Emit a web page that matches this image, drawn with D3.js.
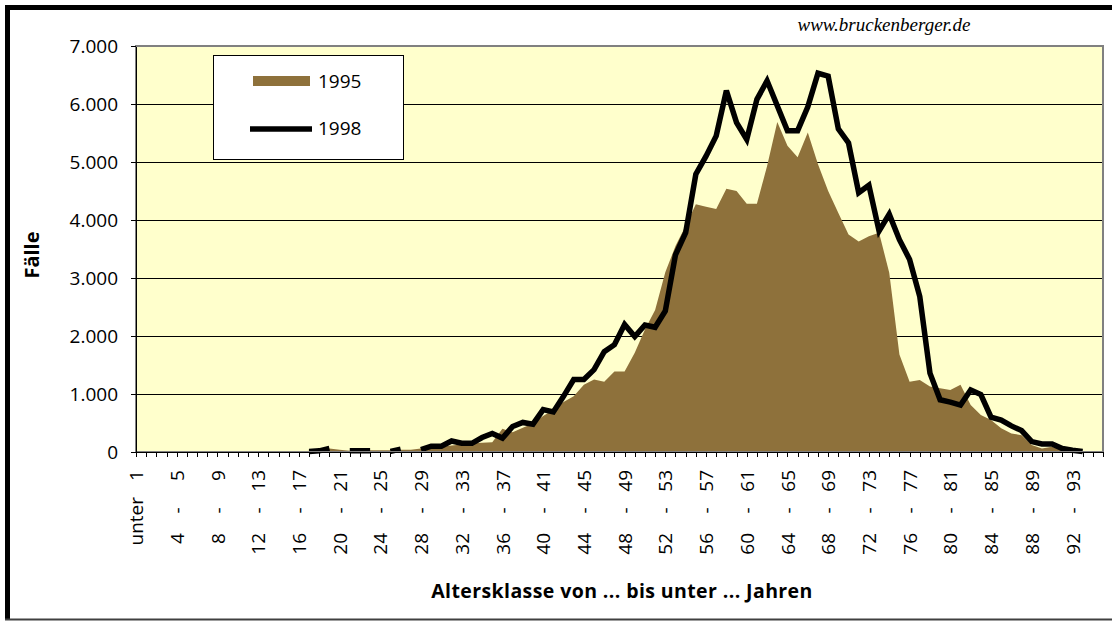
<!DOCTYPE html>
<html>
<head>
<meta charset="utf-8">
<script src="https://cdn.jsdelivr.net/npm/d3@7"></script>
<style>
  body { margin: 0; background: #fff; }
  svg { display: block; font-family: "Open Sans", sans-serif; }
</style>
</head>
<body>
<script>
// age classes: "unter 1", "1 - 2", ... "95 - 96"
var categories = ["unter 1"];
for (var a = 1; a < 96; a++) {
  categories.push(a + " - " + (a + 1));
}

// cases 1995 (area)
var values1995 = [
  0, 0, 0, 0, 0, 0, 0, 0, 0, 0,
  0, 0, 0, 0, 0, 0, 0, 20, 30, 60,
  40, 20, 20, 30, 30, 30, 40, 40, 60, 70,
  90, 110, 130, 150, 160, 170, 400, 340, 420, 490,
  620, 730, 860, 960, 1160, 1250, 1210, 1390, 1390, 1710,
  2110, 2450, 3100, 3550, 3900, 4270, 4230, 4190, 4540, 4500,
  4280, 4280, 4930, 5690, 5280, 5080, 5510, 4960, 4500, 4120,
  3750, 3630, 3720, 3780, 3090, 1680, 1210, 1240, 1130, 1100,
  1070, 1160, 810, 640, 550, 410, 320, 290, 120, 60,
  90, 35, 20, 10, 0, 0
];

// cases 1998 (line), null = empty cell
var values1998 = [
  null, null, null, null, null, null, null, null, null, null,
  null, null, null, null, null, null, null, 10, 20, 60,
  null, 20, 20, 20, null, 10, 50, null, 40, 100,
  100, 190, 150, 150, 250, 320, 240, 440, 510, 480,
  730, 690, 960, 1250, 1250, 1420, 1730, 1850, 2200, 1990,
  2190, 2150, 2430, 3400, 3780, 4790, 5100, 5450, 6230, 5680,
  5390, 6080, 6400, 5970, 5540, 5540, 5950, 6530, 6480, 5570,
  5330, 4470, 4600, 3810, 4100, 3660, 3320, 2680, 1360, 900,
  860, 810, 1070, 990, 600, 550, 450, 370, 180, 140,
  140, 60, 30, 10, null, null
];

var yTicks = [0, 1000, 2000, 3000, 4000, 5000, 6000, 7000];
var seriesNames = ["1995", "1998"];

var w = 1112, h = 623;
var plotLeft = 136, plotRight = 1103, plotTop = 46, plotBottom = 452;
var brown = "#8e713b";

var svg = d3.select("body")
  .append("svg")
  .attr("width", w)
  .attr("height", h);

var x = d3.scalePoint().domain(categories).range([plotLeft, plotRight]);
var y = d3.scaleLinear().domain([0, 7000]).range([plotBottom, plotTop]);

var de = d3.formatLocale({decimal: ",", thousands: ".", grouping: [3], currency: ["", " €"]});
var fmt = de.format(",d");

drawFrame();
drawPlot();
drawAxes();
drawLegend();
drawTitles();

function drawFrame() {
  svg.append("rect").attr("x", 5).attr("y", 5).attr("width", w - 5).attr("height", 5).attr("fill", "#000");
  svg.append("rect").attr("x", 5).attr("y", 5).attr("width", 5).attr("height", 615).attr("fill", "#000");
  svg.append("line")
    .attr("x1", 5).attr("x2", w)
    .attr("y1", 619.5).attr("y2", 619.5)
    .attr("stroke", "#404040")
    .attr("stroke-width", 2);
}

function drawPlot() {
  svg.append("rect")
    .attr("x", plotLeft).attr("y", plotTop)
    .attr("width", plotRight - plotLeft).attr("height", plotBottom - plotTop)
    .attr("fill", "#ffffcc");

  svg.append("g")
    .selectAll("line")
    .data(yTicks.slice(1, -1))
    .enter()
    .append("line")
    .attr("x1", plotLeft).attr("x2", plotRight)
    .attr("y1", function(d) { return y(d); })
    .attr("y2", function(d) { return y(d); })
    .attr("stroke", "#000")
    .attr("shape-rendering", "crispEdges");

  var area = d3.area()
    .x(function(d, i) { return x(categories[i]); })
    .y0(y(0))
    .y1(function(d) { return y(d); });

  svg.append("path")
    .datum(values1995)
    .attr("d", area)
    .attr("fill", brown);

  var line = d3.line()
    .defined(function(d) { return d !== null; })
    .x(function(d, i) { return x(categories[i]); })
    .y(function(d) { return y(d); });

  svg.append("path")
    .datum(values1998)
    .attr("d", line)
    .attr("fill", "none")
    .attr("stroke", "#000")
    .attr("stroke-width", 5.5)
    .attr("stroke-linejoin", "miter")
    .attr("stroke-miterlimit", 3);

  svg.append("rect")
    .attr("x", plotLeft).attr("y", plotTop)
    .attr("width", plotRight - plotLeft).attr("height", plotBottom - plotTop)
    .attr("fill", "none")
    .attr("stroke", "#808080")
    .attr("stroke-width", 2);
}

function drawAxes() {
  var gy = svg.append("g")
    .attr("transform", "translate(" + plotLeft + ",0)")
    .call(d3.axisLeft(y).tickValues(yTicks).tickFormat(fmt).tickSize(5).tickSizeOuter(0).tickPadding(13));

  var gx = svg.append("g")
    .attr("transform", "translate(0," + plotBottom + ")")
    .call(d3.axisBottom(x).tickSize(5).tickSizeOuter(0).tickFormat(function(d, i) {
      return i % 4 === 0 ? d : "";
    }));

  [gy, gx].forEach(function(g) {
    g.attr("font-family", null).attr("font-size", null);
    g.selectAll("path, line").attr("stroke", "#000").attr("shape-rendering", "crispEdges");
    g.selectAll("text").attr("fill", "#000").style("font-size", "19px");
  });

  gx.selectAll(".tick text").each(function() {
    var t = d3.select(this);
    var label = t.text();
    if (!label) return;
    t.text(null)
      .attr("x", 0).attr("y", 0).attr("dy", "0.35em")
      .attr("text-anchor", "start")
      .attr("transform", "rotate(-90)");
    var parts;
    if (label.indexOf("unter") === 0) {
      parts = [{s: "unter", at: -45}, {s: " " + label.split(" ")[1], at: -18}];
    } else {
      var ab = label.split(" - ");
      parts = [{s: ab[0], at: -81}, {s: " - ", at: -61, center: true}, {s: ab[1], at: -18}];
    }
    parts.forEach(function(p) {
      var ts = t.append("tspan").text(p.s);
      var len = ts.node().getComputedTextLength();
      ts.attr("x", p.center ? p.at - len / 2 : p.at - len);
    });
  });
}

function drawLegend() {
  var lg = svg.append("g");
  lg.append("rect")
    .attr("x", 213.5).attr("y", 55.5)
    .attr("width", 190).attr("height", 104)
    .attr("fill", "#fff")
    .attr("stroke", "#000");

  lg.append("rect")
    .attr("x", 253).attr("y", 76)
    .attr("width", 57).attr("height", 10)
    .attr("fill", brown);

  lg.append("line")
    .attr("x1", 250).attr("x2", 312)
    .attr("y1", 129).attr("y2", 129)
    .attr("stroke", "#000")
    .attr("stroke-width", 5.5);

  lg.selectAll("text")
    .data(seriesNames)
    .enter()
    .append("text")
    .attr("x", 318)
    .attr("y", function(d, i) { return 88 + i * 47; })
    .style("font-size", "19px")
    .text(function(d) { return d; });
}

function drawTitles() {
  svg.append("text")
    .attr("transform", "translate(39,255) rotate(-90)")
    .attr("text-anchor", "middle")
    .style("font-size", "20px")
    .style("font-weight", "bold")
    .text("Fälle");

  svg.append("text")
    .attr("x", 622).attr("y", 598)
    .attr("text-anchor", "middle")
    .style("font-size", "19.5px")
    .style("font-weight", "bold")
    .style("letter-spacing", "0.4px")
    .text("Altersklasse von ... bis unter ... Jahren");

  svg.append("text")
    .attr("x", 884).attr("y", 31)
    .attr("text-anchor", "middle")
    .style("font-family", '"Liberation Serif", serif')
    .style("font-style", "italic")
    .style("font-size", "19px")
    .text("www.bruckenberger.de");
}
</script>
</body>
</html>
